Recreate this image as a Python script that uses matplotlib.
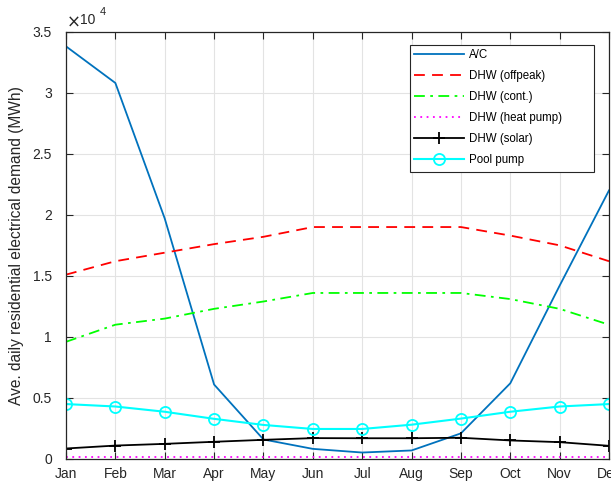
import matplotlib
matplotlib.use("Agg")
import matplotlib.pyplot as plt
from matplotlib.patches import Rectangle
import numpy as np

months = ["Jan", "Feb", "Mar", "Apr", "May", "Jun", "Jul", "Aug", "Sep", "Oct", "Nov", "Dec"]
# values in units of 10^4 MWh
ac = [3.38, 3.08, 1.97, 0.61, 0.16, 0.083, 0.053, 0.07, 0.21, 0.62, 1.42, 2.20]
dhw_offpeak = [1.51, 1.62, 1.69, 1.76, 1.82, 1.90, 1.90, 1.90, 1.90, 1.83, 1.75, 1.62]
dhw_cont = [0.96, 1.10, 1.15, 1.23, 1.29, 1.36, 1.36, 1.36, 1.36, 1.31, 1.23, 1.10]
dhw_heatpump = [0.014] * 12
dhw_solar = [0.086, 0.11, 0.124, 0.141, 0.157, 0.171, 0.17, 0.17, 0.174, 0.152, 0.138, 0.108]
pool_pump = [0.45, 0.43, 0.387, 0.329, 0.279, 0.246, 0.246, 0.281, 0.331, 0.387, 0.43, 0.45]
yticks = [0, 0.5, 1, 1.5, 2, 2.5, 3, 3.5]
ylabels = ["0", "0.5", "1", "1.5", "2", "2.5", "3", "3.5"]

plt.rcParams['font.family'] = ['Liberation Sans', 'DejaVu Sans']

fig = plt.figure(figsize=(6.11, 4.84), dpi=100)
ax = fig.add_axes([66/611, 1 - 459/484, (609-66)/611, (459-31.7)/484])

x = np.arange(len(months))
ax.plot(x, ac, color='#0072BD', lw=1.3, label='A/C')
ax.plot(x, dhw_offpeak, color='#ff0000', lw=1.3, ls=(0, (6, 4)), label='DHW (offpeak)')
ax.plot(x, dhw_cont, color='#00ff00', lw=1.3, ls=(0, (6, 3, 1.5, 3)), label='DHW (cont.)')
ax.plot(x, dhw_heatpump, color='#ff00ff', lw=1.3, ls=(0, (1, 2.5)), label='DHW (heat pump)')
ax.plot(x, dhw_solar, color='black', lw=1.3, marker='+', ms=9, mew=1.3, label='DHW (solar)')
ax.plot(x, pool_pump, color='#00ffff', lw=1.5, marker='o', ms=8, mfc='none', mew=1.3, label='Pool pump')

ax.set_xlim(0, 11)
ax.set_ylim(0, 3.5)
ax.set_xticks(x)
ax.set_xticklabels(months)
ax.set_yticks(yticks)
ax.set_yticklabels(ylabels)
ax.tick_params(direction='in', top=True, right=True, labelsize=10, colors='#262626',
               length=5, width=0.8)
ax.tick_params(axis='x', pad=6)
ax.tick_params(axis='y', pad=10)
ax.grid(True, color='#e3e3e3', lw=0.8)
ax.set_axisbelow(True)
for s in ax.spines.values():
    s.set_color('#262626')
    s.set_linewidth(0.9)

ax.set_ylabel('Ave. daily residential electrical demand (MWh)', fontsize=11.2, color='#262626', labelpad=6)

ax.text(0.0, 1.005, r'$\times$', transform=ax.transAxes, fontsize=12, color='#262626', va='bottom', ha='left')
ax.text(0.026, 1.01, '10', transform=ax.transAxes, fontsize=10, color='#262626', va='bottom', ha='left')
ax.text(0.062, 1.035, '4', transform=ax.transAxes, fontsize=8, color='#262626', va='bottom', ha='left')

# legend box
W = 543.0
H = 427.3
x0 = (410 - 66) / W
x1 = (594 - 66) / W
y1 = (459 - 45) / H
y0 = (459 - 172) / H
ax.add_patch(Rectangle((x0, y0), x1 - x0, y1 - y0, transform=ax.transAxes,
                       facecolor='white', edgecolor='#262626', lw=0.8, zorder=5))
leg = ax.legend(loc='upper left', bbox_to_anchor=(x0, y1),
                fontsize=8.3, frameon=False, borderaxespad=0, handlelength=4.3,
                labelspacing=0.78, borderpad=0.35, handletextpad=0.45)
leg.set_zorder(6)

fig.savefig('out.png', dpi=100)
